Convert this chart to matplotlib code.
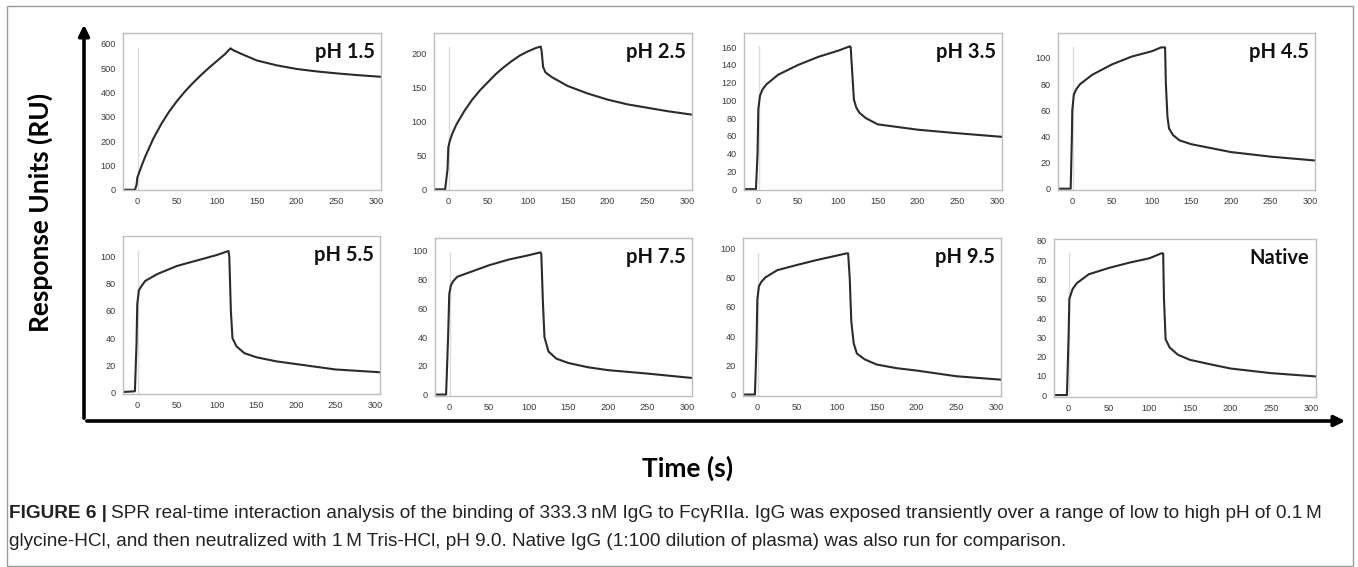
import matplotlib.pyplot as plt
from matplotlib.patches import FancyArrowPatch, Rectangle

# SPR sensorgrams (time in s, response in RU)
labels = ["pH 1.5", "pH 2.5", "pH 3.5", "pH 4.5", "pH 5.5", "pH 7.5", "pH 9.5", "Native"]

ph15_t = [-17, -3, -1, 0, 5, 10, 20, 30, 40, 50, 60, 70, 80, 90, 100, 110, 117, 120, 130, 150, 175, 200, 225, 250, 275, 305]
ph15_v = [0, 0, 20, 50, 95, 137, 210, 270, 322, 366, 405, 440, 472, 502, 530, 558, 582, 575, 560, 532, 512, 497, 487, 479, 472, 465]

ph25_t = [-17, -4, -1, 0, 2, 5, 10, 20, 30, 40, 50, 60, 70, 80, 90, 100, 110, 116, 117, 119, 122, 130, 150, 175, 200, 225, 250, 275, 305]
ph25_v = [0, 0, 30, 62, 72, 82, 95, 115, 132, 146, 158, 170, 180, 189, 197, 203, 208, 210, 205, 180, 172, 165, 152, 141, 132, 125, 120, 115, 110]

ph35_t = [-17, -3, -1, 0, 2, 5, 10, 25, 50, 75, 100, 115, 116, 118, 120, 123, 127, 135, 150, 175, 200, 250, 305]
ph35_v = [0, 0, 40, 90, 105, 112, 118, 129, 140, 149, 156, 161, 160, 130, 101, 92, 86, 80, 73, 70, 67, 63, 59]

ph45_t = [-17, -2, -0.5, 0, 2, 5, 10, 25, 50, 75, 100, 112, 117, 118, 120, 122, 127, 135, 150, 175, 200, 250, 305]
ph45_v = [0, 0, 40, 60, 72, 76, 80, 87, 95, 101, 105, 108, 108, 80, 55, 46, 41, 37, 34, 31, 28, 24.5, 21.6]

ph55_t = [-17, -3, -1, 0, 2, 5, 10, 25, 50, 75, 100, 115, 116, 118, 120, 125, 135, 150, 175, 200, 250, 305]
ph55_v = [0.5, 1, 35, 65, 75, 78, 82, 87, 93, 97, 101, 104, 100, 60, 40, 34, 29, 26, 23, 21, 17, 15]

ph75_t = [-17, -4, -1.5, 0, 2, 5, 10, 25, 50, 75, 100, 115, 116, 118, 120, 125, 135, 150, 175, 200, 250, 305]
ph75_v = [0, 0, 40, 70, 76, 79, 82, 85, 90, 94, 97, 99, 98, 65, 40, 30, 25, 22, 19, 17, 14.6, 11.6]

ph95_t = [-17, -3, -1, 0, 2, 5, 10, 25, 50, 75, 100, 112, 114, 116, 118, 121, 125, 135, 150, 175, 200, 250, 305]
ph95_v = [0, 0, 35, 65, 74, 77, 80, 85, 88.6, 92, 95, 96.5, 96.5, 80, 50, 35, 28, 24, 20.5, 18, 16.4, 12.5, 10.2]

nat_t = [-17, -2, 0, 1, 5, 10, 25, 50, 75, 100, 115, 117, 118, 120, 125, 135, 150, 175, 200, 250, 305]
nat_v = [0, 0, 30, 50, 55, 58, 62.7, 66, 68.7, 71, 73.6, 73.5, 50, 29, 24.7, 21, 18.3, 16, 13.8, 11.4, 9.7]

times = [ph15_t, ph25_t, ph35_t, ph45_t, ph55_t, ph75_t, ph95_t, nat_t]
values = [ph15_v, ph25_v, ph35_v, ph45_v, ph55_v, ph75_v, ph95_v, nat_v]

y_tops = [645, 230, 176, 119, 115, 109, 107, 81]
y_steps = [100, 50, 20, 20, 20, 20, 20, 10]
y_maxtick = [600, 200, 160, 100, 100, 100, 100, 80]
x_ticks = [0, 50, 100, 150, 200, 250, 300]

W, H = 1358, 567
fig = plt.figure(figsize=(W / 100, H / 100), dpi=100)

# panel boxes in pixels (left, top, width, height)
boxes = [(123, 33, 258, 157), (434, 33, 258, 157), (744, 33, 258, 157), (1058, 33, 257, 157),
         (123, 236, 257, 158), (435, 238, 257, 158), (743, 238, 258, 158), (1054, 239, 262, 158)]

for i, (l, t, w, h) in enumerate(boxes):
    ax = fig.add_axes([l / W, 1 - (t + h) / H, w / W, h / H])
    ymax = max(values[i])
    ax.plot([1, 1], [0, ymax], color="#dcdcdc", lw=1)
    ax.plot(times[i], values[i], color="#2b2b2b", lw=1.5)
    ax.set_xlim(-18, 306)
    ax.set_ylim(-1, y_tops[i])
    ax.set_xticks(x_ticks)
    ax.set_yticks(list(range(0, y_maxtick[i] + 1, y_steps[i])))
    ax.tick_params(length=0, labelsize=6.6, labelcolor="#3a3a3a", pad=5)
    for lab in ax.get_xticklabels() + ax.get_yticklabels():
        lab.set_family("Liberation Sans")
    for s in ax.spines.values():
        s.set_color("#bdbdbd")
        s.set_linewidth(1)
    ax.text(0.975, 0.94, labels[i], transform=ax.transAxes, ha="right", va="top",
            fontsize=14.5, fontweight="bold", family="Lato", color="#111111")

# big axis arrows
def px(x, y):
    return (x / W, 1 - y / H)

for end in [px(84, 22), px(1348, 421)]:
    arr = FancyArrowPatch(px(84, 421), end, transform=fig.transFigure, arrowstyle="-|>",
                          mutation_scale=16, lw=2.6, color="black")
    fig.add_artist(arr)

fig.text(40 / W, 1 - 212 / H, "Response Units (RU)", rotation=90, ha="center", va="center",
         fontsize=19, fontweight="bold", family="Lato")
fig.text(688 / W, 1 - 468 / H, "Time (s)", ha="center", va="center",
         fontsize=19, fontweight="bold", family="Lato")

# outer frame
fig.add_artist(Rectangle((7 / W, 1 / H), 1346 / W, 560 / H, transform=fig.transFigure,
                         fill=False, edgecolor="#9a9a9a", lw=1))

# caption
cap_size = 13.65
t1 = fig.text(9 / W, 1 - 513 / H, "FIGURE 6 |", fontsize=cap_size, fontweight="bold",
              family="Liberation Sans", va="center", color="#222222")
fig.canvas.draw()
bb = t1.get_window_extent(fig.canvas.get_renderer())
fig.text((bb.x1 + 4) / W, 1 - 513 / H,
         "SPR real-time interaction analysis of the binding of 333.3\u2009nM IgG to Fc\u03b3RIIa. "
         "IgG was exposed transiently over a range of low to high pH of 0.1\u2009M",
         fontsize=cap_size, family="Liberation Sans", va="center", color="#222222")
fig.text(9 / W, 1 - 541 / H,
         "glycine-HCl, and then neutralized with 1\u2009M Tris-HCl, pH 9.0. Native IgG (1:100 dilution "
         "of plasma) was also run for comparison.",
         fontsize=cap_size, family="Liberation Sans", va="center", color="#222222")

fig.savefig("out.png", dpi=100)
